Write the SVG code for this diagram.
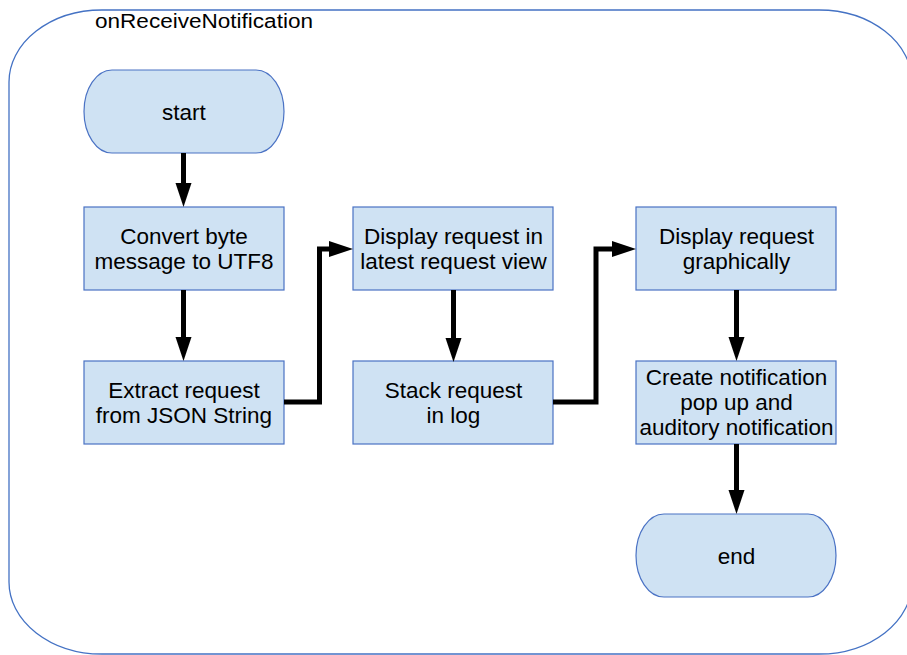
<svg xmlns="http://www.w3.org/2000/svg" width="907" height="655" viewBox="0 0 907 655">
<style>
.box{fill:#cfe2f3;stroke:#4a72c4;stroke-width:1.2}
.t{font-family:"Liberation Sans",Arial,sans-serif;font-size:22.5px;fill:#000;text-anchor:middle}
.c{fill:none;stroke:#000;stroke-width:5;stroke-linejoin:miter}
</style>
<defs>
<marker id="ah" markerUnits="userSpaceOnUse" markerWidth="24" markerHeight="16" refX="2" refY="8" orient="auto" overflow="visible">
<path d="M0,0 L24,8 L0,16 z" fill="#000"/>
</marker>
</defs>
<g id="container">
<rect x="9" y="10" width="903" height="644" rx="93" ry="72" fill="none" stroke="#4472c4" stroke-width="1.3"/>
<text x="95" y="28" font-family="Liberation Sans,Arial,sans-serif" font-size="20" textLength="218" lengthAdjust="spacingAndGlyphs">onReceiveNotification</text>
</g>
<g id="start">
<rect class="box" x="84" y="70" width="200" height="83" rx="28" ry="41.5"/>
<text class="t" x="184" y="119.5">start</text>
</g>
<g id="convert">
<rect class="box" x="84" y="207" width="200" height="83"/>
<text class="t" x="184" y="244">Convert byte</text>
<text class="t" x="184" y="269">message to UTF8</text>
</g>
<g id="extract">
<rect class="box" x="84" y="361" width="200" height="83"/>
<text class="t" x="184" y="398">Extract request</text>
<text class="t" x="184" y="423">from JSON String</text>
</g>
<g id="display">
<rect class="box" x="353" y="207" width="200" height="83"/>
<text class="t" x="453.5" y="244">Display request in</text>
<text class="t" x="453.5" y="269">latest request view</text>
</g>
<g id="stack">
<rect class="box" x="353" y="361" width="200" height="83"/>
<text class="t" x="453.5" y="398">Stack request</text>
<text class="t" x="453.5" y="423">in log</text>
</g>
<g id="graphically">
<rect class="box" x="636" y="207" width="200" height="83"/>
<text class="t" x="736.5" y="244">Display request</text>
<text class="t" x="736.5" y="269">graphically</text>
</g>
<g id="create">
<rect class="box" x="636" y="361" width="200" height="83"/>
<text class="t" x="736.5" y="385">Create notification</text>
<text class="t" x="736.5" y="410">pop up and</text>
<text class="t" x="736.5" y="435">auditory notification</text>
</g>
<g id="end">
<rect class="box" x="636" y="514" width="200" height="83" rx="28" ry="41.5"/>
<text class="t" x="736.5" y="563.5">end</text>
</g>
<g id="connectors">
<path class="c" d="M183.5,153 V185" marker-end="url(#ah)"/>
<path class="c" d="M183.5,290 V339" marker-end="url(#ah)"/>
<path class="c" d="M284,402 H319.5 V249 H331" marker-end="url(#ah)"/>
<path class="c" d="M453.5,290 V340" marker-end="url(#ah)"/>
<path class="c" d="M553,402 H596 V249 H614" marker-end="url(#ah)"/>
<path class="c" d="M736.5,290 V339" marker-end="url(#ah)"/>
<path class="c" d="M736.5,444 V492" marker-end="url(#ah)"/>
</g>
</svg>
